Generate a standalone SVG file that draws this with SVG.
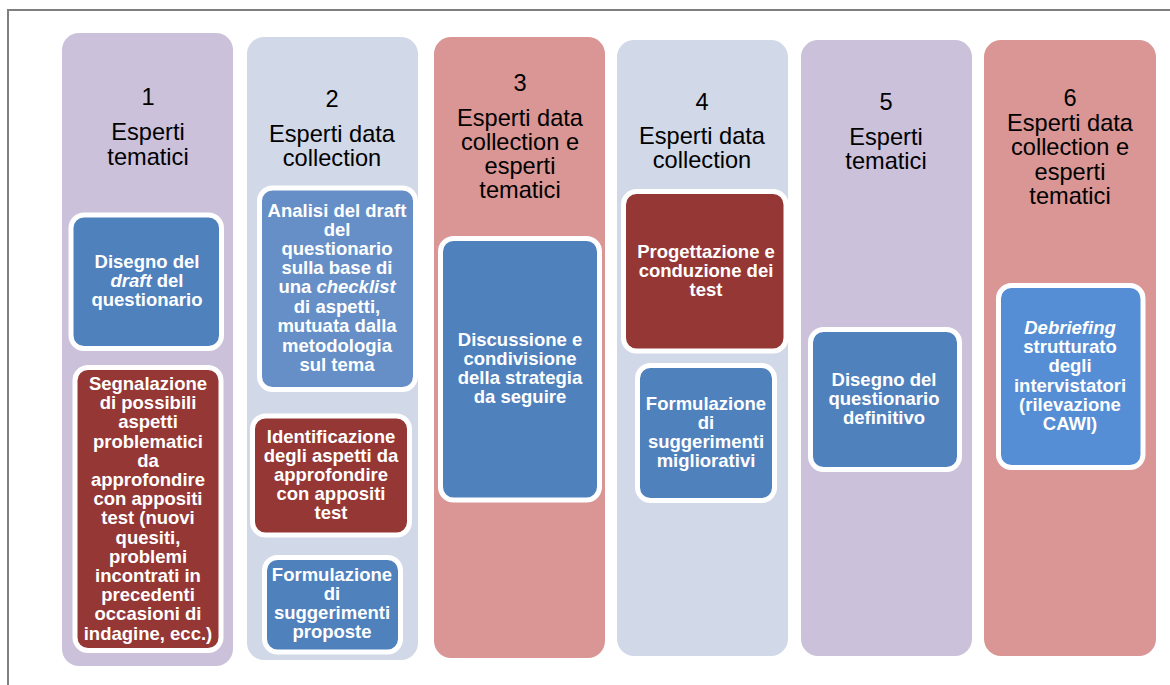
<svg xmlns="http://www.w3.org/2000/svg" width="1170" height="685" viewBox="0 0 1170 685">
<style>
.col{stroke:none}
.lav{fill:#CCC1DA}
.gry{fill:#D1D8E7}
.pnk{fill:#D99694}
.box{stroke:#FFFFFF;stroke-width:5}
.blue{fill:#4F81BD}
.blue2{fill:#668FC7}
.blue3{fill:#558ED5}
.red{fill:#953735}
.hd{font-family:"Liberation Sans",Arial,sans-serif;font-size:23.6px;fill:#000;text-anchor:middle}
.bt{font-family:"Liberation Sans",Arial,sans-serif;font-size:18.5px;font-weight:bold;fill:#FFF;text-anchor:middle}
.it{font-style:italic}
</style>
<rect x="0" y="0" width="1170" height="685" fill="#FFFFFF"/>
<path d="M8,685 V10 H1170" fill="none" stroke="#7F7F7F" stroke-width="2"/>

<g id="col1">
<rect class="col lav" x="62" y="33" width="171" height="633" rx="17"/>
<text class="hd" x="148" y="105">1</text>
<text class="hd" x="148" y="140">Esperti</text>
<text class="hd" x="148" y="165">tematici</text>
</g>
<g id="col2">
<rect class="col gry" x="247" y="37" width="171" height="623" rx="17"/>
<text class="hd" x="332" y="107">2</text>
<text class="hd" x="332" y="142">Esperti data</text>
<text class="hd" x="332" y="166">collection</text>
</g>
<g id="col3">
<rect class="col pnk" x="434" y="37" width="171" height="621" rx="17"/>
<text class="hd" x="520" y="91">3</text>
<text class="hd" x="520" y="126">Esperti data</text>
<text class="hd" x="520" y="150">collection e</text>
<text class="hd" x="520" y="174">esperti</text>
<text class="hd" x="520" y="198">tematici</text>
</g>
<g id="col4">
<rect class="col gry" x="617" y="40" width="171" height="616" rx="17"/>
<text class="hd" x="702" y="110">4</text>
<text class="hd" x="702" y="144">Esperti data</text>
<text class="hd" x="702" y="168">collection</text>
</g>
<g id="col5">
<rect class="col lav" x="801" y="40" width="171" height="616" rx="17"/>
<text class="hd" x="886" y="110">5</text>
<text class="hd" x="886" y="145">Esperti</text>
<text class="hd" x="886" y="169">tematici</text>
</g>
<g id="col6">
<rect class="col pnk" x="984" y="40" width="172" height="616" rx="17"/>
<text class="hd" x="1070" y="106">6</text>
<text class="hd" x="1070" y="131">Esperti data</text>
<text class="hd" x="1070" y="155">collection e</text>
<text class="hd" x="1070" y="180">esperti</text>
<text class="hd" x="1070" y="204">tematici</text>
</g>

<g id="box1a">
<rect class="box blue" x="71" y="215" width="150.5" height="133.5" rx="13"/>
<text class="bt" x="147" y="268">Disegno del</text>
<text class="bt" x="147" y="287"><tspan class="it">draft</tspan> del</text>
<text class="bt" x="147" y="306">questionario</text>
</g>
<g id="box1b">
<rect class="box red" x="75" y="367.5" width="146" height="283" rx="13"/>
<text class="bt" x="148" y="390">Segnalazione</text>
<text class="bt" x="148" y="409.2">di possibili</text>
<text class="bt" x="148" y="428.4">aspetti</text>
<text class="bt" x="148" y="447.6">problematici</text>
<text class="bt" x="148" y="466.8">da</text>
<text class="bt" x="148" y="486">approfondire</text>
<text class="bt" x="148" y="505.2">con appositi</text>
<text class="bt" x="148" y="524.4">test (nuovi</text>
<text class="bt" x="148" y="543.6">quesiti,</text>
<text class="bt" x="148" y="562.8">problemi</text>
<text class="bt" x="148" y="582">incontrati in</text>
<text class="bt" x="148" y="601.2">precedenti</text>
<text class="bt" x="148" y="620.4">occasioni di</text>
<text class="bt" x="148" y="639.6">indagine, ecc.)</text>
</g>
<g id="box2a">
<rect class="box blue2" x="259.5" y="188" width="156" height="201.5" rx="13"/>
<text class="bt" x="337" y="217">Analisi del draft</text>
<text class="bt" x="337" y="236">del</text>
<text class="bt" x="337" y="255">questionario</text>
<text class="bt" x="337" y="274">sulla base di</text>
<text class="bt" x="337" y="293">una <tspan class="it">checklist</tspan></text>
<text class="bt" x="337" y="313">di aspetti,</text>
<text class="bt" x="337" y="332">mutuata dalla</text>
<text class="bt" x="337" y="352">metodologia</text>
<text class="bt" x="337" y="371">sul tema</text>
</g>
<g id="box2b">
<rect class="box red" x="252.5" y="416" width="157" height="119" rx="13"/>
<text class="bt" x="331" y="443">Identificazione</text>
<text class="bt" x="331" y="462">degli aspetti da</text>
<text class="bt" x="331" y="481">approfondire</text>
<text class="bt" x="331" y="500">con appositi</text>
<text class="bt" x="331" y="519">test</text>
</g>
<g id="box2c">
<rect class="box blue" x="264.5" y="557.5" width="136" height="94.5" rx="13"/>
<text class="bt" x="332" y="581">Formulazione</text>
<text class="bt" x="332" y="600">di</text>
<text class="bt" x="332" y="619">suggerimenti</text>
<text class="bt" x="332" y="638">proposte</text>
</g>
<g id="box3">
<rect class="box blue" x="440.5" y="238.5" width="159" height="261.5" rx="13"/>
<text class="bt" x="520" y="346">Discussione e</text>
<text class="bt" x="520" y="365">condivisione</text>
<text class="bt" x="520" y="384">della strategia</text>
<text class="bt" x="520" y="403">da seguire</text>
</g>
<g id="box4a">
<rect class="box red" x="623.5" y="191.5" width="162.5" height="159.5" rx="13"/>
<text class="bt" x="706" y="258">Progettazione e</text>
<text class="bt" x="706" y="277">conduzione dei</text>
<text class="bt" x="706" y="296">test</text>
</g>
<g id="box4b">
<rect class="box blue" x="637.5" y="365.5" width="137" height="135" rx="13"/>
<text class="bt" x="706" y="410">Formulazione</text>
<text class="bt" x="706" y="429">di</text>
<text class="bt" x="706" y="448">suggerimenti</text>
<text class="bt" x="706" y="467">migliorativi</text>
</g>
<g id="box5">
<rect class="box blue" x="810.5" y="329.5" width="149" height="140" rx="13"/>
<text class="bt" x="884" y="386">Disegno del</text>
<text class="bt" x="884" y="405">questionario</text>
<text class="bt" x="884" y="424">definitivo</text>
</g>
<g id="box6">
<rect class="box blue3" x="998.5" y="285.5" width="144.5" height="182" rx="13"/>
<text class="bt" x="1070" y="334"><tspan class="it">Debriefing</tspan></text>
<text class="bt" x="1070" y="353">strutturato</text>
<text class="bt" x="1070" y="372">degli</text>
<text class="bt" x="1070" y="392">intervistatori</text>
<text class="bt" x="1070" y="411">(rilevazione</text>
<text class="bt" x="1070" y="430">CAWI)</text>
</g>
<g id="connectors"></g>
</svg>
